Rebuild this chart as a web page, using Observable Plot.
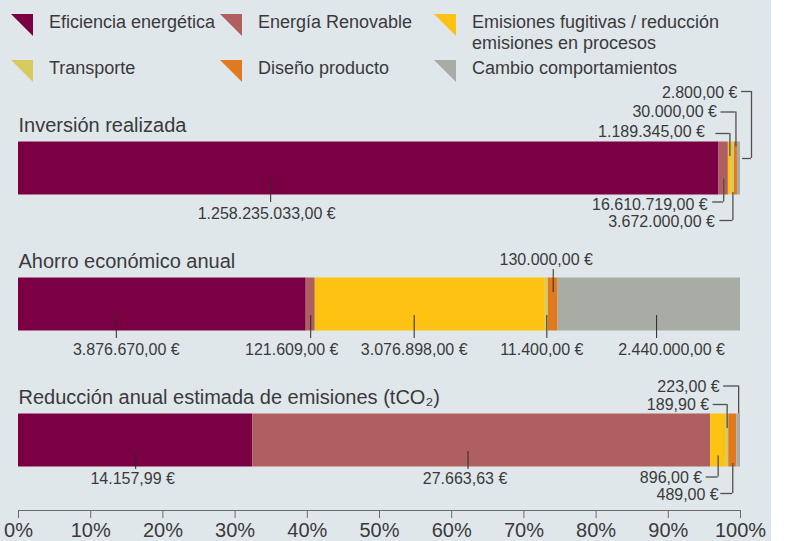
<!DOCTYPE html>
<html>
<head>
<meta charset="utf-8">
<script src="https://cdn.jsdelivr.net/npm/d3@7"></script>
<script src="https://cdn.jsdelivr.net/npm/@observablehq/plot@0.6"></script>
<style>
  html, body { margin: 0; padding: 0; background: #ffffff; }
  #panel { position: relative; width: 771px; height: 541px; background: #e0e7eb;
           font-family: "Liberation Sans", Arial, sans-serif; color: #3a3a3a; }
  #legend { position: relative; height: 80px; }
  .item { position: absolute; }
  .item svg { position: absolute; left: 0; top: 0; }
  .item .lab { position: absolute; font-size: 18px; line-height: 21px; width: 255px; }
  #chart { width: 785px; }
  #chart svg { display: block; overflow: visible; max-width: none !important; }
  #chart g[aria-label="x-axis tick label"] { fill: #3a3a3a; }
</style>
</head>
<body>
<div id="panel">
  <div id="legend"></div>
  <div id="chart"></div>
</div>
<script>
// ---------------- data ----------------
const series = [
  "Eficiencia energética",
  "Energía Renovable",
  "Emisiones fugitivas / reducción emisiones en procesos",
  "Transporte",
  "Diseño producto",
  "Cambio comportamientos"
];
const colors = ["#7b0043", "#b05f60", "#fec213", "#d8ca5e", "#e07a1e", "#a9aca5"];
const rows = [
  "Inversión realizada",
  "Ahorro económico anual",
  "Reducción anual estimada de emisiones (tCO₂)"
];
const inversion = [1258235033, 16610719, 1189345, 3672000, 30000, 2800];
const ahorro    = [3876670, 121609, 3076898, 11400, 130000, 2440000];
const reduccion = [14157.99, 27663.63, 896, 189.90, 489, 223];
const xTicks = [0, 10, 20, 30, 40, 50, 60, 70, 80, 90, 100];

// ---------------- layout / style ----------------
const TEXT = "#3a3a3a";
const BAND = 136, HALF = BAND / 2, BAR = 53, INSET = HALF - BAR / 2;
const LEGEND_H = 80;
const MIN_SHARE = 0.42; // minimum visible share (%) for tiny segments

// label placement (r = row index, s = series index)
const notes = [
  {r: 0, s: 0, type: "below", at: 0.36, dx: -4},
  {r: 0, s: 1, type: "elbow", v: [10.5, 33.5], h: 11, dx: -16, dy: 41.5},
  {r: 0, s: 2, type: "elbow", v: [-35, -12], h: 14, dx: -25, dy: -32},
  {r: 0, s: 3, type: "elbow", v: [24, 52], h: 13, dx: -18, dy: 58},
  {r: 0, s: 4, type: "elbow", v: [-56.5, -21.5], h: 15, dx: -19, dy: -52},
  {r: 0, s: 5, type: "side",  v: [-77, -10], dx: -3, dy: -71},
  {r: 1, s: 0, type: "below", at: 0.34, dx: 10},
  {r: 1, s: 1, type: "below", dx: -19},
  {r: 1, s: 2, type: "below", at: 0.43},
  {r: 1, s: 3, type: "below", dx: -5},
  {r: 1, s: 4, type: "above", dx: -7},
  {r: 1, s: 5, type: "below", at: 0.54, dx: 15},
  {r: 2, s: 0, type: "below", dx: -3, v: [11, 29], dy: 43.5},
  {r: 2, s: 1, type: "below", at: 0.47, dx: -3, v: [11, 29], dy: 43.5},
  {r: 2, s: 2, type: "elbow", v: [15.5, 36.5], h: 12, dx: -16, dy: 42},
  {r: 2, s: 3, type: "elbow", v: [-36, -12], h: 14, dx: -18, dy: -30.5},
  {r: 2, s: 4, type: "elbow", v: [23, 53], h: 12, dx: -14, dy: 59},
  {r: 2, s: 5, type: "elbow", v: [-54.5, -26.5], h: 15, dx: -19, dy: -49}
];

// ---------------- legend ----------------
const legend = document.getElementById("legend");
const colX = [11, 220, 434], rowY = [14, 60];
series.forEach((name, i) => {
  const it = document.createElement("div");
  it.className = "item";
  it.style.left = colX[i % 3] + "px";
  it.style.top = rowY[Math.floor(i / 3)] + "px";
  it.innerHTML = `<svg width="22" height="22"><polygon points="0,0 22,0 22,22" fill="${colors[i]}"/></svg>` +
                 `<div class="lab" style="left:38px;top:-2.5px">${name}</div>`;
  legend.appendChild(it);
});

// ---------------- segments ----------------
const locale = d3.formatLocale({decimal: ",", thousands: ".", grouping: [3], currency: ["", " €"]});
const num = locale.format(",.2f");
const fmt = v => num(v) + " €";

function displayShares(values) {
  const total = d3.sum(values);
  const d = values.map(v => Math.max(v / total * 100, MIN_SHARE));
  const extra = d3.sum(d) - 100;
  d[d3.maxIndex(d)] -= extra;
  return d;
}

const segs = [];
[inversion, ahorro, reduccion].forEach((vals, r) => {
  const d = displayShares(vals);
  let acc = 0;
  vals.forEach((v, s) => {
    segs.push({r, s, row: rows[r], series: series[s], value: v, x1: acc, x2: acc + d[s]});
    acc += d[s];
  });
});

// ---------------- marks ----------------
const marks = [
  Plot.barX(segs, {x1: "x1", x2: "x2", y: "row", fill: "series", insetTop: INSET, insetBottom: INSET}),
  Plot.text(rows, {y: d => d, text: d => d, frameAnchor: "left", textAnchor: "start",
                   lineAnchor: "bottom", dy: -37, fontSize: 20, fill: TEXT})
];

for (const n of notes) {
  const seg = segs.find(d => d.r === n.r && d.s === n.s);
  const at = n.at ?? 0.5;
  const datum = {row: seg.row, ax: n.type === "side" ? seg.x2 : seg.x1 + at * (seg.x2 - seg.x1), label: fmt(seg.value)};
  const D = [datum];
  if (n.type === "below" || n.type === "above") {
    const v = n.v ?? (n.type === "below" ? [11, 34] : [-35, -12]);
    const ty = n.dy ?? (n.type === "below" ? 50.5 : -40);
    marks.push(Plot.tickX(D, {x: "ax", y: "row", insetTop: HALF + v[0], insetBottom: HALF - v[1],
                              stroke: "#2a2a2a", strokeWidth: 1}));
    marks.push(Plot.text(D, {x: "ax", y: "row", text: "label", dx: n.dx || 0, dy: ty,
                             lineAnchor: "bottom", textAnchor: "middle", fontSize: 16, fill: TEXT}));
  } else if (n.type === "elbow") {
    const outer = n.v[1] > 0 ? n.v[1] : n.v[0];
    marks.push(Plot.tickX(D, {x: "ax", y: "row", insetTop: HALF + n.v[0], insetBottom: HALF - n.v[1],
                              stroke: "#505050", strokeWidth: 1.3}));
    marks.push(Plot.ruleY(D, {x1: "ax", x2: "ax", y: "row", dy: outer, insetLeft: -n.h, insetRight: 0,
                              stroke: "#505050", strokeWidth: 1.3}));
    marks.push(Plot.text(D, {x: "ax", y: "row", text: "label", dx: n.dx, dy: n.dy,
                             lineAnchor: "bottom", textAnchor: "end", fontSize: 16, fill: TEXT}));
  } else if (n.type === "side") {
    marks.push(Plot.ruleY(D, {x1: "ax", x2: "ax", y: "row", dy: n.v[0], insetLeft: 1, insetRight: -11,
                              stroke: "#505050", strokeWidth: 1.3}));
    marks.push(Plot.ruleY(D, {x1: "ax", x2: "ax", y: "row", dy: n.v[1], insetLeft: 2, insetRight: -11,
                              stroke: "#505050", strokeWidth: 1.3}));
    marks.push(Plot.tickX(D, {x: "ax", y: "row", dx: 11, insetTop: HALF + n.v[0], insetBottom: HALF - n.v[1],
                              stroke: "#505050", strokeWidth: 1.3}));
    marks.push(Plot.text(D, {x: "ax", y: "row", text: "label", dx: n.dx, dy: n.dy,
                             lineAnchor: "bottom", textAnchor: "end", fontSize: 16, fill: TEXT}));
  }
}

const chart = Plot.plot({
  width: 785,
  height: 541 - LEGEND_H,
  marginLeft: 18, marginRight: 45, marginTop: 0, marginBottom: 31,
  style: {background: "transparent", fontFamily: "Liberation Sans, Arial, sans-serif",
          fontSize: "20px", color: "#6b6b6b", overflow: "visible", maxWidth: "none"},
  x: {domain: [0, 100], ticks: xTicks, tickFormat: d => d + "%", tickSize: 8, tickPadding: 4,
      label: null, line: true},
  y: {domain: rows, range: [99.5 - LEGEND_H, 99.5 - LEGEND_H + 3 * BAND], padding: 0, axis: null},
  color: {domain: series, range: colors},
  marks
});
document.getElementById("chart").appendChild(chart);
</script>
</body>
</html>
